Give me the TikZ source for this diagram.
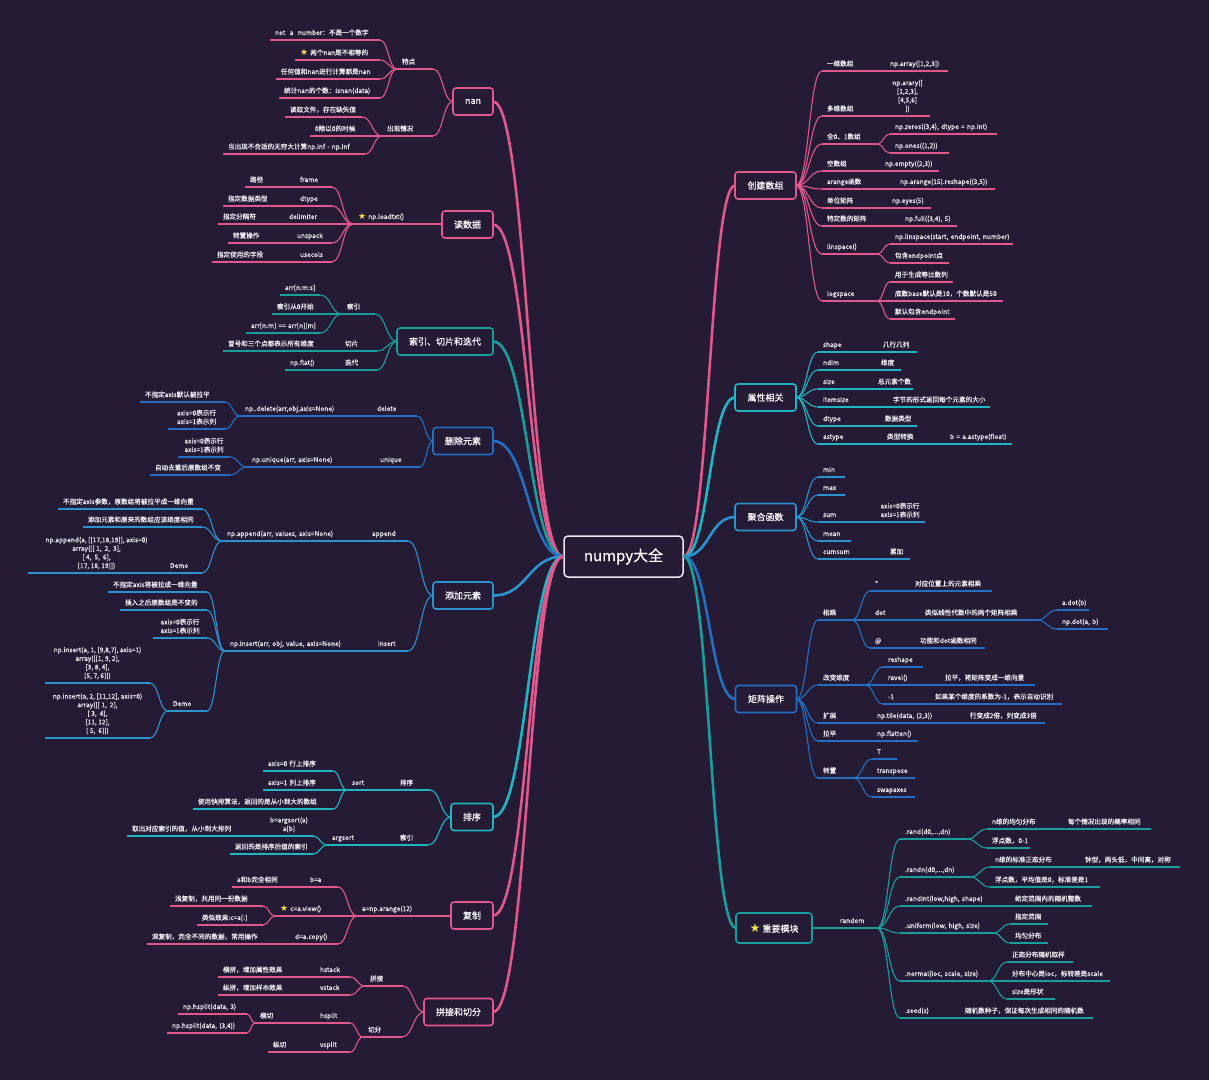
\documentclass[tikz,border=0pt]{standalone}
\usepackage{fontspec}
\usepackage{graphicx}
\setmainfont{Noto Sans CJK SC}[FakeBold=0.35]
\newfontfamily\symf{DejaVu Sans}
\usetikzlibrary{calc}
\definecolor{bgc}{HTML}{251B35}
\definecolor{pinkc}{HTML}{E0588C}
\definecolor{tealc}{HTML}{1A9E9C}
\definecolor{cyanc}{HTML}{1FB5C2}
\definecolor{bluec}{HTML}{2A93D0}
\definecolor{bluedc}{HTML}{226FC4}
\definecolor{rootc}{HTML}{EDE6F2}
\definecolor{txtc}{HTML}{EEEEF2}
\definecolor{staryellow}{HTML}{F5E04A}
\colorlet{cc}{pinkc}
\newcommand\mystar{{\symf\color{staryellow}\scalebox{1.35}{★}}}
\newcommand\tp[5]{%
  \pgfmathsetmacro\tw{#3-#2-10}%
  \node[topic,text width=\tw pt] (#1) at (#2,#4) {\mbox{\strut#5\strut}};%
  \draw[uline] (#1.south west) -- (#1.south east);%
}
\newcommand\tm[5]{%
  \pgfmathsetmacro\tw{#3-#2}%
  \node[topic,align=center,minimum width=\tw pt] (#1) at (#2,#4) {\strut#5\strut};%
  \draw[uline] (#1.south west) -- (#1.south east);%
}
\newcommand\cn[3][]{%
  \path ($(#2)!0.5!(#3)$) coordinate (mid);%
  \draw[conn,#1] (#2) .. controls (mid |- #2) and (mid |- #3) .. (#3);%
}
\newcommand\cR[2]{\cn{#1.south east}{#2.south west}}
\newcommand\cL[2]{\cn{#1.south west}{#2.south east}}
\newcommand\bR[2]{\cn{#1.east}{#2.south west}}
\newcommand\bL[2]{\cn{#1.west}{#2.south east}}
\begin{document}
\begin{tikzpicture}[x=1pt,y=-1pt,
  topic/.style={anchor=south west, inner xsep=5pt, inner ysep=2.4pt, outer sep=0pt, align=left, text=txtc, font=\fontsize{6.6}{8.6}\selectfont},
  uline/.style={draw=cc, line width=1.1pt},
  conn/.style={draw=cc, line width=1.1pt},
  rootline/.style={line width=2.6pt},
  brbox/.style={draw=#1, rounded corners=3pt, line width=1.6pt, fill=bgc, text=white, font=\fontsize{9}{11}\selectfont, minimum height=27pt, inner sep=2pt, outer sep=0pt}]
\fill[bgc] (0,0) rectangle (1209,1080);
\useasboundingbox (0,0) rectangle (1209,1080);

% root and main boxes
\node[draw=rootc, rounded corners=4pt, line width=1.5pt, fill=bgc, text=white, font=\fontsize{15}{18}\selectfont, minimum width=119pt, minimum height=41pt] (root) at (623.5,556.5) {numpy大全};
\node[brbox=pinkc, minimum width=61pt] (cj) at (765.5,185.5) {创建数组};
\node[brbox=cyanc, minimum width=61pt] (sx) at (765.5,397.5) {属性相关};
\node[brbox=bluec, minimum width=61pt] (jh) at (765.5,517) {聚合函数};
\node[brbox=bluedc, minimum width=61pt] (jz) at (766,699) {矩阵操作};
\node[brbox=tealc, minimum width=76pt, minimum height=30pt] (zy) at (774,928) {\mystar\ 重要模块};
\node[brbox=pinkc, minimum width=40pt] (nan) at (473,101.5) {nan};
\node[brbox=pinkc, minimum width=51pt] (dsj) at (467.5,224.5) {读数据};
\node[brbox=tealc, minimum width=96pt] (sy) at (445,341.5) {索引、切片和迭代};
\node[brbox=bluedc, minimum width=60pt] (sc) at (463,441) {删除元素};
\node[brbox=bluec, minimum width=60pt] (tj) at (463,595.5) {添加元素};
\node[brbox=cyanc, minimum width=42pt] (px) at (472,817) {排序};
\node[brbox=pinkc, minimum width=42pt] (fz) at (472,915.5) {复制};
\node[brbox=pinkc, minimum width=69pt] (pj) at (458.5,1012) {拼接和切分};

\cn[rootline,draw=pinkc]{root.east}{cj.west}
\cn[rootline,draw=cyanc]{root.east}{sx.west}
\cn[rootline,draw=bluec]{root.east}{jh.west}
\cn[rootline,draw=bluedc]{root.east}{jz.west}
\cn[rootline,draw=tealc]{root.east}{zy.west}
\cn[rootline,draw=pinkc]{root.west}{nan.east}
\cn[rootline,draw=pinkc]{root.west}{dsj.east}
\cn[rootline,draw=tealc]{root.west}{sy.east}
\cn[rootline,draw=bluedc]{root.west}{sc.east}
\cn[rootline,draw=bluec]{root.west}{tj.east}
\cn[rootline,draw=cyanc]{root.west}{px.east}
\cn[rootline,draw=pinkc]{root.west}{fz.east}
\cn[rootline,draw=pinkc]{root.west}{pj.east}

% ===== 创建数组
\colorlet{cc}{pinkc}
\tp{a1}{822}{885}{71}{一维数组}
\tp{a1c}{885}{948}{71}{np.array([1,2,3])}
\tp{a2}{822}{885}{116}{多维数组}
\tm{a2c}{885}{930}{116}{np.arary([\\{}[1,2,3],\\{}[4,5,6]\\])}
\tp{a3}{822}{877}{144}{全0、1数组}
\tp{a3a}{890}{997}{134}{np.zeros((3,4), dtype = np.int)}
\tp{a3b}{890}{949}{153}{np.ones((1,2))}
\tp{a4}{822}{880}{171}{空数组}
\tp{a4c}{880}{939}{171}{np.empty((2,3))}
\tp{a5}{822}{895}{189}{arange函数}
\tp{a5c}{895}{995}{189}{np.arange(15).reshape((3,5))}
\tp{a6}{822}{887}{208}{单位矩阵}
\tp{a6c}{887}{931}{208}{np.eyes(5)}
\tp{a7}{822}{900}{226}{特定数的矩阵}
\tp{a7c}{900}{957}{226}{np.full((3,4), 5)}
\tp{a8}{822}{877}{254}{linspace()}
\tp{a8a}{890}{1013}{244}{np.linspace(start, endpoint, number)}
\tp{a8b}{890}{949}{263}{包含endpoint点}
\tp{a9}{822}{877}{301}{logspace}
\tp{a9a}{890}{953}{282}{用于生成等比数列}
\tp{a9b}{890}{1003}{301}{底数base默认是10，个数默认是50}
\tp{a9c}{890}{955}{319}{默认包含endpoint}
\bR{cj}{a1}\bR{cj}{a2}\bR{cj}{a3}\bR{cj}{a4}\bR{cj}{a5}\bR{cj}{a6}\bR{cj}{a7}\bR{cj}{a8}\bR{cj}{a9}
\cR{a1}{a1c}\cR{a2}{a2c}\cR{a3}{a3a}\cR{a3}{a3b}\cR{a4}{a4c}\cR{a5}{a5c}\cR{a6}{a6c}\cR{a7}{a7c}
\cR{a8}{a8a}\cR{a8}{a8b}\cR{a9}{a9a}\cR{a9}{a9b}\cR{a9}{a9c}

% ===== 属性相关
\colorlet{cc}{cyanc}
\tp{b1}{818}{878}{352}{shape}
\tp{b1c}{878}{917}{352}{几行几列}
\tp{b2}{818}{876}{370}{ndim}
\tp{b2c}{876}{901}{370}{维度}
\tp{b3}{818}{873}{389}{size}
\tp{b3c}{873}{913}{389}{总元素个数}
\tp{b4}{818}{888}{407}{itemsize}
\tp{b4c}{888}{990}{407}{字节的形式返回每个元素的大小}
\tp{b5}{818}{880}{426}{dtype}
\tp{b5c}{880}{917}{426}{数据类型}
\tp{b6}{818}{882}{444}{astype}
\tp{b6c}{882}{945}{444}{类型转换}
\tp{b6d}{945}{1012}{444}{b = a.astype(float)}
\bR{sx}{b1}\bR{sx}{b2}\bR{sx}{b3}\bR{sx}{b4}\bR{sx}{b5}\bR{sx}{b6}
\cR{b1}{b1c}\cR{b2}{b2c}\cR{b3}{b3c}\cR{b4}{b4c}\cR{b5}{b5c}\cR{b6}{b6c}\cR{b6c}{b6d}

% ===== 聚合函数
\colorlet{cc}{bluec}
\tp{c1}{818}{845}{477}{min}
\tp{c2}{818}{845}{495}{max}
\tp{c3}{818}{875}{522}{sum}
\tm{c3c}{875}{925}{522}{axis=0表示行\\axis=1表示列}
\tp{c4}{818}{851}{541}{mean}
\tp{c5}{818}{885}{559}{cumsum}
\tp{c5c}{885}{910}{559}{累加}
\bR{jh}{c1}\bR{jh}{c2}\bR{jh}{c3}\bR{jh}{c4}\bR{jh}{c5}
\cR{c3}{c3c}\cR{c5}{c5c}

% ===== 矩阵操作
\colorlet{cc}{bluedc}
\tp{d1}{818}{852}{620}{相乘}
\tp{d1a}{870}{910}{591}{*}
\tp{d1ac}{910}{992}{591}{对应位置上的元素相乘}
\tp{d1b}{870}{920}{620}{dot}
\tp{d1bc}{920}{1037}{620}{类似线性代数中的两个矩阵相乘}
\tp{d1b1}{1057}{1089}{610}{a.dot(b)}
\tp{d1b2}{1057}{1108}{629}{np.dot(a, b)}
\tp{d1c}{870}{915}{648}{@}
\tp{d1cc}{915}{985}{648}{功能和dot函数相同}
\tp{d2}{818}{865}{685}{改变维度}
\tp{d2a}{883}{923}{667}{reshape}
\tp{d2b}{883}{940}{685}{ravel()}
\tp{d2bc}{940}{1035}{685}{拉平，将矩阵变成一维向量}
\tp{d2c}{883}{930}{704}{-1}
\tp{d2cc}{930}{1062}{704}{如果某个维度的系数为-1，表示自动识别}
\tp{d3}{818}{872}{723}{扩展}
\tp{d3c}{872}{965}{723}{np.tile(data, (2,3))}
\tp{d3d}{965}{1045}{723}{行变成2倍，列变成3倍}
\tp{d4}{818}{872}{741}{拉平}
\tp{d4c}{872}{918}{741}{np.flatten()}
\tp{d5}{818}{853}{778}{转置}
\tp{d5a}{872}{897}{759}{T}
\tp{d5b}{872}{915}{778}{transpose}
\tp{d5c}{872}{915}{797}{swapaxes}
\bR{jz}{d1}\bR{jz}{d2}\bR{jz}{d3}\bR{jz}{d4}\bR{jz}{d5}
\cR{d1}{d1a}\cR{d1}{d1b}\cR{d1}{d1c}\cR{d1a}{d1ac}\cR{d1b}{d1bc}\cR{d1bc}{d1b1}\cR{d1bc}{d1b2}\cR{d1c}{d1cc}
\cR{d2}{d2a}\cR{d2}{d2b}\cR{d2}{d2c}\cR{d2b}{d2bc}\cR{d2c}{d2cc}
\cR{d3}{d3c}\cR{d3c}{d3d}\cR{d4}{d4c}
\cR{d5}{d5a}\cR{d5}{d5b}\cR{d5}{d5c}

% ===== 重要模块
\colorlet{cc}{tealc}
\tp{e0}{835}{877}{928}{random}
\tp{e1}{900}{967}{839}{.rand(d0,...,dn)}
\tp{e1a}{987}{1063}{829}{n维的均匀分布}
\tp{e1ac}{1063}{1151}{829}{每个情况出现的概率相同}
\tp{e1b}{987}{1030}{848}{浮点数，0-1}
\tp{e2}{900}{970}{877}{.randn(d0,...,dn)}
\tp{e2a}{990}{1080}{867}{n维的标准正态分布}
\tp{e2ac}{1080}{1180}{867}{钟型，两头低，中间高，对称}
\tp{e2b}{990}{1100}{887}{浮点数，平均值是0，标准差是1}
\tp{e3}{900}{1010}{906}{.randint(low,high, shape)}
\tp{e3c}{1010}{1092}{906}{给定范围内的随机整数}
\tp{e4}{900}{993}{933}{.uniform(low, high, size)}
\tp{e4a}{1010}{1048}{924}{指定范围}
\tp{e4b}{1010}{1048}{943}{均匀分布}
\tp{e5}{900}{988}{981}{.normal(loc, scale, size)}
\tp{e5a}{1007}{1073}{962}{正态分布随机取样}
\tp{e5b}{1007}{1110}{981}{分布中心是loc，标转差是scale}
\tp{e5c}{1007}{1055}{999}{size是形状}
\tp{e6}{900}{960}{1018}{.seed(s)}
\tp{e6c}{960}{1093}{1018}{随机数种子，保证每次生成相同的随机数}
\draw[conn] (zy.east) -- (e0.south west);
\cR{e0}{e1}\cR{e0}{e2}\cR{e0}{e3}\cR{e0}{e4}\cR{e0}{e5}\cR{e0}{e6}
\cR{e1}{e1a}\cR{e1}{e1b}\cR{e1a}{e1ac}
\cR{e2}{e2a}\cR{e2}{e2b}\cR{e2a}{e2ac}
\cR{e3}{e3c}\cR{e4}{e4a}\cR{e4}{e4b}
\cR{e5}{e5a}\cR{e5}{e5b}\cR{e5}{e5c}\cR{e6}{e6c}

% ===== nan
\colorlet{cc}{pinkc}
\tp{n1}{397}{433}{69}{特点}
\tp{n1a}{270}{380}{40}{not\ \ a\ \ number：不是一个数字}
\tp{n1b}{295}{380}{60}{\mystar\ 两个nan是不相等的}
\tp{n1c}{276}{380}{79}{任何值和nan进行计算都是nan}
\tp{n1d}{279}{380}{98}{统计nan的个数：isnan(data)}
\tp{n2}{382}{433}{136}{出现情况}
\tp{n2a}{285}{362}{117}{读取文件，存在缺失值}
\tp{n2b}{310}{370}{136}{0除以0的时候}
\tp{n2c}{223}{365}{154}{当出现不合适的无穷大计算np.inf - np.inf}
\bL{nan}{n1}\bL{nan}{n2}
\cL{n1}{n1a}\cL{n1}{n1b}\cL{n1}{n1c}\cL{n1}{n1d}
\cL{n2}{n2a}\cL{n2}{n2b}\cL{n2}{n2c}

% ===== 读数据
\tp{r0}{353}{442}{224}{\mystar\ np.loadtxt()}
\tp{r1}{295}{332}{187}{frame}
\tp{r1c}{245}{295}{187}{路径}
\tp{r2}{295}{332}{206}{dtype}
\tp{r2c}{223}{295}{206}{指定数据类型}
\tp{r3}{284}{332}{224}{delimiter}
\tp{r3c}{218}{284}{224}{指定分隔符}
\tp{r4}{292}{332}{243}{unspack}
\tp{r4c}{228}{292}{243}{转置操作}
\tp{r5}{295}{332}{262}{usecols}
\tp{r5c}{212}{295}{262}{指定使用的字段}
\bL{dsj}{r0}
\cL{r0}{r1}\cL{r0}{r2}\cL{r0}{r3}\cL{r0}{r4}\cL{r0}{r5}
\cL{r1}{r1c}\cL{r2}{r2c}\cL{r3}{r3c}\cL{r4}{r4c}\cL{r5}{r5c}

% ===== 索引、切片和迭代
\colorlet{cc}{tealc}
\tp{s1}{342}{375}{314}{索引}
\tp{s1a}{280}{320}{295}{arr[n:m:s]}
\tp{s1b}{272}{320}{314}{索引从0开始}
\tp{s1c}{246}{320}{333}{arr[n:m] == arr[n][m]}
\tp{s2}{340}{377}{351}{切片}
\tp{s2c}{223}{340}{351}{冒号和三个点都表示所有维度}
\tp{s3}{340}{377}{370}{迭代}
\tp{s3c}{285}{340}{370}{np.flat()}
\bL{sy}{s1}\bL{sy}{s2}\bL{sy}{s3}
\cL{s1}{s1a}\cL{s1}{s1b}\cL{s1}{s1c}\cL{s2}{s2c}\cL{s3}{s3c}

% ===== 删除元素
\colorlet{cc}{bluedc}
\tp{t1}{372}{417}{416}{delete}
\tp{t1c}{240}{372}{416}{np..delete(arr,obj,axis=None)}
\tp{t1a}{140}{225}{402}{不指定axis默认被拉平}
\tm{t1b}{168}{225}{429}{axis=0表示行\\axis=1表示列}
\tp{t2}{375}{420}{467}{unique}
\tp{t2c}{247}{375}{467}{np.unique(arr, axis=None)}
\tm{t2a}{178}{230}{457}{axis=0表示行\\axis=1表示列}
\tp{t2b}{150}{230}{475}{自动去重后原数组不变}
\bL{sc}{t1}\bL{sc}{t2}
\cL{t1}{t1c}\cL{t1c}{t1a}\cL{t1c}{t1b}
\cL{t2}{t2c}\cL{t2c}{t2a}\cL{t2c}{t2b}

% ===== 添加元素
\colorlet{cc}{bluec}
\tp{u1}{367}{408}{541}{append}
\tp{u1c}{222}{367}{541}{np.append(arr, values, axis=None)}
\tp{u1a}{58}{202}{509}{不指定axis参数，原数组将被拉平成一维向量}
\tp{u1b}{83}{202}{527}{添加元素和原来的数组应该维度相同}
\tp{u1d}{165}{202}{573}{Demo}
\tm{u1dc}{28}{165}{573}{np.append(a, [[17,18,19]], axis=0)\\array([[ 1,\ \ 2,\ \ 3],\\{}[ 4,\ \ 5,\ \ 6],\\{}[17, 18, 19]])}
\tp{u2}{373}{408}{651}{insert}
\tp{u2c}{225}{373}{651}{np.insert(arr, obj, value, axis=None)}
\tp{u2a}{108}{207}{592}{不指定axis将被拉成一维向量}
\tp{u2b}{120}{207}{610}{插入之后原数组是不变的}
\tm{u2e}{153}{207}{638}{axis=0表示行\\axis=1表示列}
\tp{u2d}{168}{207}{711}{Demo}
\tm{u2d1}{45}{150}{683}{np.insert(a, 1, [9,8,7], axis=1)\\array([[1, 9, 2],\\{}[3, 8, 4],\\{}[5, 7, 6]])}
\tm{u2d2}{45}{150}{738}{np.insert(a, 2, [11,12], axis=0)\\array([[ 1,\ \ 2],\\{}[ 3,\ \ 4],\\{}[11, 12],\\{}[ 5,\ \ 6]])}
\bL{tj}{u1}\bL{tj}{u2}
\cL{u1}{u1c}\cL{u1c}{u1a}\cL{u1c}{u1b}\cL{u1c}{u1d}\cL{u1d}{u1dc}
\cL{u2}{u2c}\cL{u2c}{u2a}\cL{u2c}{u2b}\cL{u2c}{u2e}\cL{u2c}{u2d}\cL{u2d}{u2d1}\cL{u2d}{u2d2}

% ===== 排序
\colorlet{cc}{cyanc}
\tp{v1}{395}{430}{790}{排序}
\tp{v1c}{347}{395}{790}{sort}
\tp{v1a}{263}{333}{771}{axis=0~行上排序}
\tp{v1b}{263}{333}{790}{axis=1~列上排序}
\tp{v1d}{193}{333}{809}{使用快排算法，返回的是从小到大的数组}
\tp{v2}{395}{428}{845}{索引}
\tp{v2c}{327}{395}{845}{argsort}
\tm{v2a}{265}{313}{836}{b=argsort(a)\\a[b]}
\tp{v2ac}{127}{265}{836}{取出对应索引的值，从小到大排列}
\tp{v2b}{230}{313}{854}{返回的是排序后值的索引}
\bL{px}{v1}\bL{px}{v2}
\cL{v1}{v1c}\cL{v1c}{v1a}\cL{v1c}{v1b}\cL{v1c}{v1d}
\cL{v2}{v2c}\cL{v2c}{v2a}\cL{v2a}{v2ac}\cL{v2c}{v2b}

% ===== 复制
\colorlet{cc}{pinkc}
\tp{w0}{357}{451}{916}{a=np.arange(12)}
\tp{w1}{305}{338}{887}{b=a}
\tp{w1c}{232}{305}{887}{a和b完全相同}
\tp{w2}{275}{338}{916}{\mystar\ c=a.view()}
\tp{w2a}{170}{263}{906}{浅复制，共用同一份数据}
\tp{w2b}{197}{263}{925}{类似效果:c=a[:]}
\tp{w3}{290}{338}{944}{d=a.copy()}
\tp{w3c}{147}{290}{944}{深复制，完全不同的数据，常用操作}
\bL{fz}{w0}
\cL{w0}{w1}\cL{w0}{w2}\cL{w0}{w3}\cL{w1}{w1c}\cL{w2}{w2a}\cL{w2}{w2b}\cL{w3}{w3c}

% ===== 拼接和切分
\tp{x1}{365}{403}{986}{拼接}
\tp{x1a}{315}{350}{977}{hstack}
\tp{x1ac}{218}{315}{977}{横拼，增加属性效果}
\tp{x1b}{315}{350}{995}{vstack}
\tp{x1bc}{218}{315}{995}{纵拼，增加样本效果}
\tp{x2}{363}{402}{1037}{切分}
\tp{x2a}{315}{350}{1023}{hsplit}
\tp{x2ac}{255}{315}{1023}{横切}
\tp{x2a1}{178}{247}{1014}{np.hsplit(data, 3)}
\tp{x2a2}{167}{247}{1033}{np.hsplit(data, (3,4))}
\tp{x2b}{315}{350}{1052}{vsplit}
\tp{x2bc}{268}{315}{1052}{纵切}
\bL{pj}{x1}\bL{pj}{x2}
\cL{x1}{x1a}\cL{x1}{x1b}\cL{x1a}{x1ac}\cL{x1b}{x1bc}
\cL{x2}{x2a}\cL{x2}{x2b}\cL{x2a}{x2ac}\cL{x2ac}{x2a1}\cL{x2ac}{x2a2}\cL{x2b}{x2bc}
\end{tikzpicture}
\end{document}
